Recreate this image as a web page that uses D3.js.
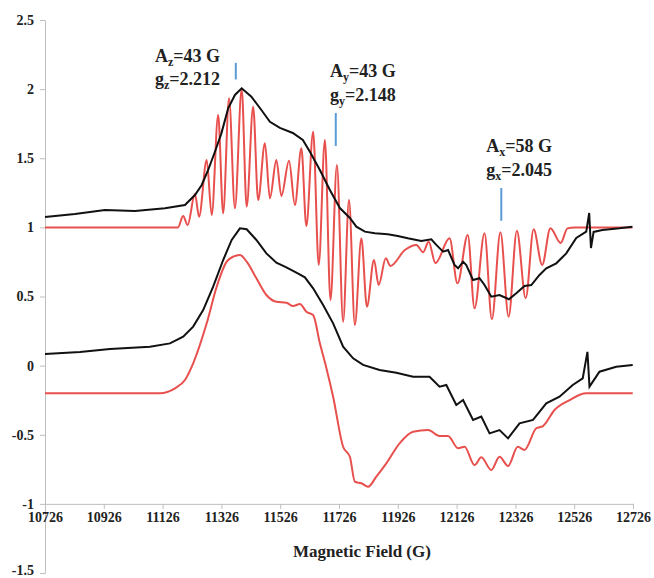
<!DOCTYPE html>
<html>
<head>
<meta charset="utf-8">
<script src="https://cdn.jsdelivr.net/npm/d3@7/dist/d3.min.js"></script>
<style>
  body { margin: 0; background: #fff; }
  svg text { font-family: "Liberation Serif", "Times New Roman", serif; font-weight: bold; fill: #222; }
</style>
</head>
<body>
<svg id="chart" width="654" height="578"></svg>
<script>
// x ticks and y ticks
var xTicks = [10726, 10926, 11126, 11326, 11526, 11726, 11926, 12126, 12326, 12526, 12726]
var yTicks = [-1.5, -1, -0.5, 0, 0.5, 1, 1.5, 2, 2.5]

// experimental spectrum, offset +1 (black, top)
var expTop = [
  [10726, 1.075], [10828, 1.097], [10930, 1.126], [11032, 1.118], [11134, 1.138],
  [11202, 1.162], [11236, 1.234], [11259, 1.307], [11281, 1.415], [11304, 1.547],
  [11326, 1.680], [11349, 1.861], [11372, 1.958], [11395, 2.006], [11428, 1.945],
  [11462, 1.849], [11491, 1.764], [11525, 1.719], [11569, 1.683], [11603, 1.632],
  [11627, 1.547], [11661, 1.415], [11695, 1.270], [11729, 1.140], [11763, 1.068],
  [11785, 1.005], [11814, 0.969], [11848, 0.957], [11892, 0.950], [11926, 0.938],
  [11960, 0.921], [12006, 0.901], [12040, 0.914], [12057, 0.873], [12080, 0.824],
  [12097, 0.836], [12119, 0.728], [12131, 0.704], [12148, 0.752], [12159, 0.728],
  [12182, 0.619], [12204, 0.632], [12221, 0.583], [12244, 0.499], [12272, 0.511],
  [12304, 0.480], [12329, 0.523], [12357, 0.576], [12380, 0.583], [12408, 0.656],
  [12431, 0.704], [12465, 0.740], [12499, 0.812], [12533, 0.923], [12567, 0.969],
  [12577, 1.104], [12583, 0.851], [12592, 0.967], [12622, 0.981], [12680, 0.993],
  [12724, 1.005]
]

// simulated spectrum, offset +1 (red, top)
var simTop = [
  [10726, 1.000], [11178, 1.000], [11196, 1.082], [11211, 1.017], [11236, 1.241],
  [11250, 1.077], [11276, 1.487], [11293, 1.089], [11315, 1.813], [11332, 1.102],
  [11352, 1.934], [11372, 1.138], [11395, 1.999], [11412, 1.150], [11434, 1.873],
  [11451, 1.198], [11474, 1.608], [11491, 1.210], [11513, 1.487], [11530, 1.227],
  [11556, 1.482], [11576, 1.162], [11598, 1.572], [11615, 1.010], [11638, 1.692],
  [11657, 0.728], [11678, 1.632], [11697, 0.475], [11719, 1.451], [11740, 0.318],
  [11760, 1.198], [11780, 0.294], [11802, 0.921], [11821, 0.426], [11845, 0.764],
  [11861, 0.583], [11885, 0.776], [11901, 0.721], [11950, 0.836], [11989, 0.873],
  [12012, 0.820], [12031, 0.896], [12054, 0.742], [12102, 0.921], [12129, 0.595],
  [12164, 0.945], [12187, 0.415], [12221, 0.957], [12246, 0.335], [12275, 0.964],
  [12303, 0.354], [12331, 0.976], [12361, 0.487], [12388, 0.986], [12417, 0.728],
  [12445, 0.993], [12480, 0.887], [12503, 0.993], [12527, 1.000], [12724, 1.000]
]

// integrated experimental (black, bottom)
var expBottom = [
  [10726, 0.084], [10845, 0.099], [10947, 0.120], [11083, 0.137], [11151, 0.161],
  [11196, 0.209], [11230, 0.282], [11264, 0.402], [11298, 0.571], [11332, 0.764],
  [11361, 0.909], [11389, 0.993], [11412, 0.986], [11445, 0.909], [11479, 0.812],
  [11513, 0.744], [11547, 0.711], [11581, 0.672], [11610, 0.639], [11638, 0.559],
  [11672, 0.438], [11706, 0.306], [11740, 0.137], [11774, 0.053], [11808, 0.005],
  [11864, -0.032], [11921, -0.051], [11978, -0.080], [12034, -0.080], [12068, -0.152],
  [12091, -0.140], [12125, -0.285], [12148, -0.249], [12182, -0.393], [12210, -0.369],
  [12238, -0.490], [12272, -0.466], [12301, -0.526], [12340, -0.417], [12386, -0.393],
  [12431, -0.273], [12476, -0.225], [12521, -0.140], [12555, -0.092], [12571, 0.100],
  [12578, -0.152], [12612, -0.044], [12669, -0.008], [12725, 0.005]
]

// integrated simulation, offset -0.2 (red, bottom)
var simBottom = [
  [10726, -0.200], [11117, -0.200], [11168, -0.164], [11202, -0.104], [11230, 0.017],
  [11276, 0.306], [11310, 0.571], [11344, 0.752], [11366, 0.788], [11389, 0.800],
  [11412, 0.752], [11445, 0.632], [11479, 0.511], [11513, 0.462], [11547, 0.455],
  [11570, 0.431], [11593, 0.446], [11615, 0.390], [11638, 0.366], [11661, 0.161],
  [11683, -0.017], [11706, -0.225], [11740, -0.587], [11763, -0.659], [11780, -0.840],
  [11802, -0.851], [11825, -0.876], [11853, -0.803], [11887, -0.707], [11932, -0.562],
  [11978, -0.478], [12029, -0.466], [12068, -0.509], [12097, -0.509], [12131, -0.598],
  [12153, -0.587], [12187, -0.719], [12210, -0.663], [12244, -0.755], [12272, -0.659],
  [12301, -0.726], [12334, -0.587], [12357, -0.610], [12397, -0.453], [12420, -0.437],
  [12459, -0.321], [12510, -0.249], [12567, -0.200], [12725, -0.200]
]

// hyperfine labels: marker field, marker span, text field and baseline
var labels = [
  {a: 'z', A: '43 G', g: '2.212', field: 11375, y1: 2.19, y2: 2.07, tx: 11100, ty: 2.198},
  {a: 'y', A: '43 G', g: '2.148', field: 11715, y1: 1.827, y2: 1.589, tx: 11695, ty: 2.086},
  {a: 'x', A: '58 G', g: '2.045', field: 12278, y1: 1.285, y2: 1.048, tx: 12227, ty: 1.545}
]

var svg = d3.select('#chart')

var x = d3.scaleLinear().domain([10726, 12726]).range([45, 633])
var y = d3.scaleLinear().domain([-1.5, 2.5]).range([573, 20])

// y axis
var yAxis = svg.append('g')
  .attr('transform', 'translate(' + x(10726) + ',0)')
  .call(d3.axisLeft(y).tickValues(yTicks).tickSize(5).tickSizeOuter(0).tickPadding(6)
    .tickFormat(function(d) { return String(d) }))
yAxis.select('.domain').attr('stroke', '#bfbfbf')
yAxis.selectAll('.tick line').attr('stroke', '#bfbfbf')
yAxis.selectAll('.tick text').attr('font-size', 14).attr('fill', '#222')
  .style('font-family', '"Liberation Serif", serif').style('font-weight', 'bold')
  .attr('dy', function(d) { return d === -1.5 ? '0.1em' : '0.32em' })

// x axis sits on y = -1
var xAxis = svg.append('g')
  .attr('transform', 'translate(0,' + y(-1) + ')')
  .call(d3.axisBottom(x).tickValues(xTicks).tickSize(5).tickSizeOuter(0).tickPadding(3)
    .tickFormat(function(d) { return String(d) }))
xAxis.select('.domain').attr('stroke', '#bfbfbf')
xAxis.selectAll('.tick line').attr('stroke', '#bfbfbf')
xAxis.selectAll('.tick text').attr('font-size', 14).attr('fill', '#222')
  .style('font-family', '"Liberation Serif", serif').style('font-weight', 'bold')

svg.append('text')
  .attr('x', (x(10726) + x(12726)) / 2 + 23)
  .attr('y', 557)
  .attr('text-anchor', 'middle')
  .attr('font-size', 17)
  .text('Magnetic Field (G)')

var lineSmooth = d3.line()
  .x(function(d) { return x(d[0]) })
  .y(function(d) { return y(d[1]) })
  .curve(d3.curveMonotoneX)

var lineRaw = d3.line()
  .x(function(d) { return x(d[0]) })
  .y(function(d) { return y(d[1]) })

var red = '#e8504e'

svg.append('path').datum(simBottom)
  .attr('d', lineSmooth).attr('fill', 'none').attr('stroke', red).attr('stroke-width', 2)
svg.append('path').datum(simTop)
  .attr('d', lineSmooth).attr('fill', 'none').attr('stroke', red).attr('stroke-width', 2)
svg.append('path').datum(expBottom)
  .attr('d', lineRaw).attr('fill', 'none').attr('stroke', '#111').attr('stroke-width', 2)
svg.append('path').datum(expTop)
  .attr('d', lineRaw).attr('fill', 'none').attr('stroke', '#111').attr('stroke-width', 2)

// blue markers
svg.selectAll('.marker').data(labels).enter().append('line')
  .attr('class', 'marker')
  .attr('x1', function(d) { return x(d.field) })
  .attr('x2', function(d) { return x(d.field) })
  .attr('y1', function(d) { return y(d.y1) })
  .attr('y2', function(d) { return y(d.y2) })
  .attr('stroke', '#5b9bd5').attr('stroke-width', 2)

// annotation text with subscripts
labels.forEach(function(d) {
  var t1 = svg.append('text').attr('x', x(d.tx)).attr('y', y(d.ty)).attr('font-size', 18)
  t1.append('tspan').text('A')
  t1.append('tspan').attr('font-size', 12).attr('dy', 4).text(d.a)
  t1.append('tspan').attr('dy', -4).text('=' + d.A)

  var t2 = svg.append('text').attr('x', x(d.tx)).attr('y', y(d.ty) + 23.5).attr('font-size', 18)
  t2.append('tspan').text('g')
  t2.append('tspan').attr('font-size', 12).attr('dy', 4).text(d.a)
  t2.append('tspan').attr('dy', -4).text('=' + d.g)
})
</script>
</body>
</html>
